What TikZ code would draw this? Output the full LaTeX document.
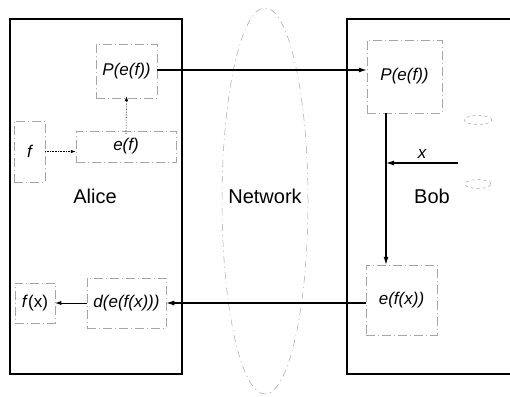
\documentclass[tikz,border=0pt]{standalone}
\usepackage{fontspec}
\setmainfont{Liberation Sans}
\usetikzlibrary{arrows.meta,shapes.geometric}
\begin{document}
\begin{tikzpicture}[x=1pt,y=-1pt,
  party/.style={draw=black,line width=1.1pt},
  inbox/.style={draw=gray!70,line width=0.5pt,dash pattern=on 9pt off 3pt on 1pt off 3pt,inner sep=0pt,text=black,font=\fontsize{17}{20}\selectfont\itshape},
  big/.style={font=\fontsize{20}{24}\selectfont},
  lbl/.style={font=\fontsize{17}{20}\selectfont\itshape},
  mainarrow/.style={line width=1.1pt,-{Latex[length=8pt,width=5pt]}},
  thinarrow/.style={line width=0.6pt,-{Latex[length=6pt,width=4pt]}},
  dotarrow/.style={line width=0.6pt,densely dotted,-{Latex[length=5pt,width=3.5pt]}},
  net/.style={draw=gray!70,line width=0.5pt,dash pattern=on 7pt off 4pt on 1pt off 4pt},
  blob/.style={draw=gray!70,line width=0.5pt,dashed}]
\useasboundingbox (0,0) rectangle (510,396);
% party boxes
\node[party,minimum width=172pt,minimum height=355pt,inner sep=0pt] (alice) at (96,196.5) {};
\node[party,minimum width=170pt,minimum height=355pt,inner sep=0pt] (bob) at (432,196.5) {};
% network ellipse
\node[net,ellipse,minimum width=86pt,minimum height=386pt,inner sep=0pt] (network) at (265,201) {};
% labels
\node[big] (alicelbl) at (95,196) {Alice};
\node[big] (netlbl) at (265,196) {Network};
\node[big] (boblbl) at (432,196) {Bob};
% Alice inner boxes
\node[inbox,minimum width=61pt,minimum height=54pt] (pA) at (126.5,71) {P(e(f))};
\node[inbox,minimum width=100pt,minimum height=31pt] (ef) at (126,146.5) {e(f)};
\node[inbox,minimum width=31pt,minimum height=61pt] (f) at (29.5,151.5) {f};
\node[inbox,minimum width=40pt,minimum height=40pt,font=\fontsize{17}{20}\selectfont] (fx) at (35,303) {\textit{f}(x)};
\node[inbox,minimum width=79pt,minimum height=50pt] (d) at (126.5,303) {d(e(f(x)))};
% Bob inner boxes
\node[inbox,minimum width=75pt,minimum height=73pt] (pB) at (404.5,76.5) {P(e(f))};
\node[inbox,minimum width=71pt,minimum height=70pt] (eB) at (401.5,300) {e(f(x))};
% small blobs
\node[blob,ellipse,minimum width=28pt,minimum height=9pt,inner sep=0pt] (blobA) at (478,120) {};
\node[blob,ellipse,minimum width=26pt,minimum height=9pt,inner sep=0pt] (blobB) at (478,184) {};
% helper coordinates
\coordinate (lineA) at (0,70);
\coordinate (vx) at (386,0);
\coordinate (xs) at (458,163);
% connectors
\draw[mainarrow] (pA.east |- lineA) -- (pB.west |- lineA);
\draw[mainarrow] (pB.south -| vx) -- (eB.north -| vx);
\draw[mainarrow] (xs) -- (vx |- xs) node[lbl,midway,above=1pt] (xlbl) {x};
\draw[mainarrow] (eB.west |- d) -- (d.east);
\draw[thinarrow] (d.west) -- (fx.east);
\draw[dotarrow] (f.east) -- (f.east -| ef.west);
\draw[dotarrow] ([yshift=-3pt]ef.north) -- ([yshift=2pt]pA.south);
\end{tikzpicture}
\end{document}
